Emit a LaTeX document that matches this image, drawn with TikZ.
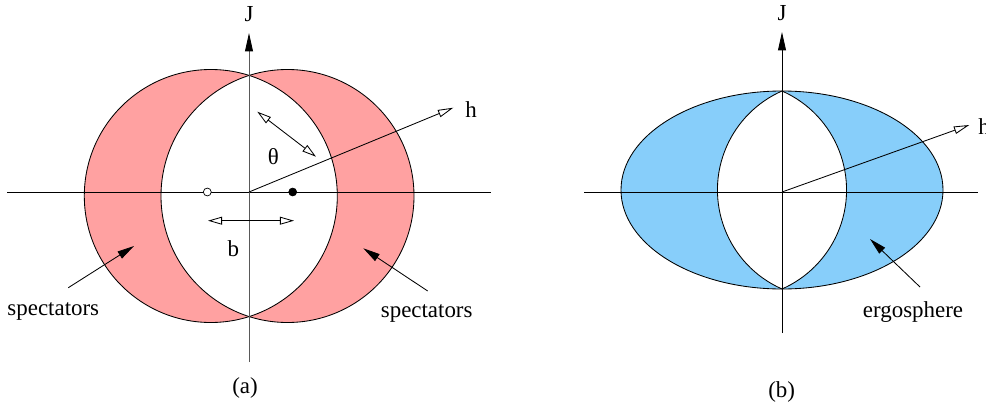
\documentclass[tikz,border=0pt]{standalone}
\usepackage{fontspec}
\setmainfont{Liberation Serif}
\usetikzlibrary{arrows.meta,positioning}
\definecolor{crescent}{RGB}{255,161,161}
\definecolor{ergo}{RGB}{135,206,250}
\begin{document}
\begin{tikzpicture}[x=0.025cm,y=0.025cm,line width=0.6pt,font=\fontsize{16.3}{19}\selectfont,
 ax/.style={-{Triangle[length=13pt,width=5.6pt,color=black]}},
 dub/.style={{Triangle[open,length=10pt,width=5.6pt]}-{Triangle[open,length=10pt,width=5.6pt]}},
 opn/.style={-{Triangle[open,length=11pt,width=5.4pt]}},
 ptr/.style={-{Triangle[length=12pt,width=5.8pt]}},
 dot/.style={draw,circle,minimum size=5.6pt,inner sep=0pt,line width=0.5pt}]
\useasboundingbox (0,0) rectangle (986,404);
% (a)
\coordinate (Oa) at (249,212); \coordinate (ca1) at (210.8,208); \coordinate (ca2) at (287.5,208);
\fill[crescent,even odd rule] (ca1) circle[radius=126.5] (ca2) circle[radius=126.5];
\draw (ca1) circle[radius=126.5]; \draw (ca2) circle[radius=126.5];
\coordinate (xa1) at (7,212); \coordinate (xa2) at (491,212);
\coordinate (ya1) at (249,42); \coordinate (ya2) at (249,371);
\draw (xa1) -- (xa2);
\draw[ax,black!65] (ya1) -- (ya2);
\node (Ja) at (249,390) {J};
\node[dot,fill=white] (pa1) at (207.3,212) {};
\node[dot,fill=black] (pa2) at (292.7,212) {};
\coordinate (ha) at (453.3,296.3); \node (hla) at (471,294) {h};
\draw[opn] (Oa) -- (ha);
\coordinate (ta1) at (257.3,292.3); \coordinate (ta2) at (316,247.3);
\draw[dub] (ta1) -- (ta2); \node (tha) at (273.3,247.3) {θ};
\coordinate (ba1) at (208,183.3); \coordinate (ba2) at (294,183.3);
\draw[dub] (ba1) -- (ba2); \node (bla) at (233.3,155.7) {b};
\node (spl) at (53.3,92.3) {spectators};
\node (spr) at (426.7,90.7) {spectators};
\coordinate (sl1) at (68.3,116.3); \coordinate (sl2) at (134,158);
\coordinate (sr1) at (427.7,113); \coordinate (sr2) at (363.3,155.7);
\draw[ptr] (sl1) -- (sl2);
\draw[ptr] (sr1) -- (sr2);
\node (capa) at (245,15.7) {(a)};
% (b)
\coordinate (Ob) at (782,212); \coordinate (eb) at (782,214);
\fill[ergo] (eb) ellipse[x radius=161,y radius=99];
\fill[white] (782,313) arc[start angle=66.2,end angle=-66.2,radius=108.2]
 arc[start angle=246.2,end angle=113.8,radius=108.2] -- cycle;
\draw (eb) ellipse[x radius=161,y radius=99];
\draw (782,313) arc[start angle=66.2,end angle=-66.2,radius=108.2]
 arc[start angle=246.2,end angle=113.8,radius=108.2];
\coordinate (xb1) at (584,212); \coordinate (xb2) at (978,212);
\coordinate (yb1) at (782,71); \coordinate (yb2) at (782,372);
\draw (xb1) -- (xb2);
\draw[ax] (yb1) -- (yb2);
\node (Jb) at (782,391) {J};
\coordinate (hb) at (969.3,279); \node[anchor=west,inner sep=0pt] (hlb) at (978,277) {h};
\draw[opn] (Ob) -- (hb);
\node (erg) at (913,92) {ergosphere};
\coordinate (eg1) at (920,117); \coordinate (eg2) at (870,165);
\draw[ptr] (eg1) -- (eg2);
\node (capb) at (781.7,12.3) {(b)};
\end{tikzpicture}
\end{document}
